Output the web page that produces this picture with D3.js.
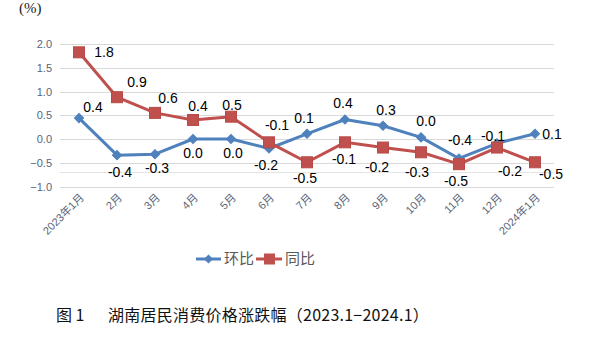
<!DOCTYPE html>
<html><head><meta charset="utf-8">
<script src="https://cdn.jsdelivr.net/npm/d3@7"></script>
<style>html,body{margin:0;padding:0;background:#fff;}svg{display:block;}</style>
</head><body>
<svg id="c" width="598" height="343"></svg>
<script>
const categories = ["2023年1月","2月","3月","4月","5月","6月","7月","8月","9月","10月","11月","12月","2024年1月"];
const hbValues = [0.44,-0.34,-0.32,0.0,0.0,-0.2,0.11,0.41,0.28,0.035,-0.41,-0.09,0.11];
const hbLabels = ["0.4","-0.4","-0.3","0.0","0.0","-0.2","0.1","0.4","0.3","0.0","-0.4","-0.1","0.1"];
const tbValues = [1.825,0.88,0.55,0.40,0.47,-0.07,-0.49,-0.07,-0.18,-0.28,-0.53,-0.18,-0.49];
const tbLabels = ["1.8","0.9","0.6","0.4","0.5","-0.1","-0.5","-0.1","-0.2","-0.3","-0.5","-0.2","-0.5"];
const yTicks = [-1.0,-0.5,0.0,0.5,1.0,1.5,2.0];
const seriesNames = ["环比","同比"];
// label placement (offset from point, px)
const hbLabelPos = [[14,-11],[3,17],[2,14],[0,14],[2,14],[-3,17],[-3,-16],[-2,-16],[3,-16],[5,-16],[1,-18],[-4,-7],[17,0]];
const tbLabelPos = [[25,0],[20,-15],[13,-15],[5,-14],[1,-12],[8,-17],[-2,16],[-1,17],[-6,20],[-4,20],[-3,17],[13,24],[16,12]];

const svg = d3.select("#c");
const x = d3.scaleBand().domain(categories).range([60,554]);
const y = d3.scaleLinear().domain([-1,2]).range([186.5,44]);
const cx = d => x(d) + x.bandwidth()/2;

// gridlines
const grid = svg.append("g");
grid.selectAll("line").data(yTicks).join("line")
  .attr("x1",60).attr("x2",554)
  .attr("y1",d=>Math.round(y(d))+0.5).attr("y2",d=>Math.round(y(d))+0.5)
  .attr("stroke","#d9d9d9").attr("stroke-width",1);
grid.append("line").attr("x1",60).attr("x2",554)
  .attr("y1",Math.round(y(-0.7))+0.5).attr("y2",Math.round(y(-0.7))+0.5)
  .attr("stroke","#e4e4e4").attr("stroke-width",1);

// y axis labels
const yAxis = d3.axisLeft(y).tickValues(yTicks).tickFormat(d3.format(".1f")).tickSize(0).tickPadding(8);
const ya = svg.append("g").attr("transform","translate(60,0)").call(yAxis);
ya.select(".domain").remove();
ya.selectAll("text").attr("fill","#5a6578").style("font-family","'Liberation Sans',Arial,sans-serif").style("font-size","11px");

// x axis labels
const xAxis = d3.axisBottom(x).tickSize(0).tickPadding(0);
const xa = svg.append("g").attr("transform","translate(0,186.5)").call(xAxis);
xa.select(".domain").remove();
xa.selectAll("text")
  .attr("fill","#5a6578")
  .style("font-family","'Liberation Sans','Noto Sans CJK SC',sans-serif")
  .style("font-size","11px")
  .attr("text-anchor","end")
  .attr("dy","0.35em")
  .attr("transform","translate(3,9) rotate(-45)");

// lines
const line = vals => d3.line().x((d,i)=>cx(categories[i])).y(d=>y(d))(vals);
svg.append("path").attr("d",line(hbValues)).attr("fill","none").attr("stroke","#4f81bd").attr("stroke-width",3).attr("stroke-linejoin","round");
svg.append("path").attr("d",line(tbValues)).attr("fill","none").attr("stroke","#c0504d").attr("stroke-width",3).attr("stroke-linejoin","round");

// markers
svg.append("g").selectAll("path").data(hbValues).join("path")
  .attr("d",d3.symbol().type(d3.symbolSquare).size(42))
  .attr("transform",(d,i)=>`translate(${cx(categories[i])},${y(d)}) rotate(45)`)
  .attr("fill","#4f81bd").attr("stroke","#4f81bd").attr("stroke-width",1);
svg.append("g").selectAll("rect").data(tbValues).join("rect")
  .attr("x",(d,i)=>cx(categories[i])-5.5).attr("y",d=>y(d)-5.5)
  .attr("width",11).attr("height",11)
  .attr("fill","#c0504d").attr("stroke","#b84a47").attr("stroke-width",1);

// data labels
const lblFont = "'Liberation Sans',Arial,sans-serif";
svg.append("g").selectAll("text").data(hbValues).join("text")
  .attr("x",(d,i)=>cx(categories[i])+hbLabelPos[i][0])
  .attr("y",(d,i)=>y(d)+hbLabelPos[i][1])
  .attr("text-anchor","middle").attr("dy","0.35em")
  .style("font-family",lblFont).style("font-size","14px").attr("fill","#000")
  .text((d,i)=>hbLabels[i]);
svg.append("g").selectAll("text").data(tbValues).join("text")
  .attr("x",(d,i)=>cx(categories[i])+tbLabelPos[i][0])
  .attr("y",(d,i)=>y(d)+tbLabelPos[i][1])
  .attr("text-anchor","middle").attr("dy","0.35em")
  .style("font-family",lblFont).style("font-size","14px").attr("fill","#000")
  .text((d,i)=>tbLabels[i]);

// unit
svg.append("text").attr("x",19).attr("y",13).text("(%)")
  .style("font-family","'Liberation Serif','Noto Sans CJK SC',serif").style("font-size","15px").attr("fill","#222");

// legend
const lg = svg.append("g").attr("transform","translate(0,259)");
lg.append("line").attr("x1",196).attr("x2",221).attr("y1",0).attr("y2",0).attr("stroke","#4f81bd").attr("stroke-width",3);
lg.append("path").attr("d",d3.symbol().type(d3.symbolSquare).size(42)).attr("transform","translate(208.5,0) rotate(45)").attr("fill","#4f81bd");
lg.append("text").attr("x",224).attr("y",0).attr("dy","0.35em").text(seriesNames[0])
  .style("font-family","'Noto Sans CJK SC',sans-serif").style("font-size","15px").attr("fill","#595959");
lg.append("line").attr("x1",256).attr("x2",282).attr("y1",0).attr("y2",0).attr("stroke","#c0504d").attr("stroke-width",3);
lg.append("rect").attr("x",264).attr("y",-5.5).attr("width",11).attr("height",11).attr("fill","#c0504d");
lg.append("text").attr("x",285).attr("y",0).attr("dy","0.35em").text(seriesNames[1])
  .style("font-family","'Noto Sans CJK SC',sans-serif").style("font-size","15px").attr("fill","#595959");

// caption
const cap = svg.append("g").style("font-family","'Noto Sans CJK SC',sans-serif").style("font-size","16px").attr("fill","#111");
cap.append("text").attr("x",56).attr("y",315).attr("dy","0.35em").text("图 1");
cap.append("text").attr("x",108).attr("y",315).attr("dy","0.35em").style("letter-spacing","0.25px").text("湖南居民消费价格涨跌幅（2023.1−2024.1）");
</script>
</body></html>
